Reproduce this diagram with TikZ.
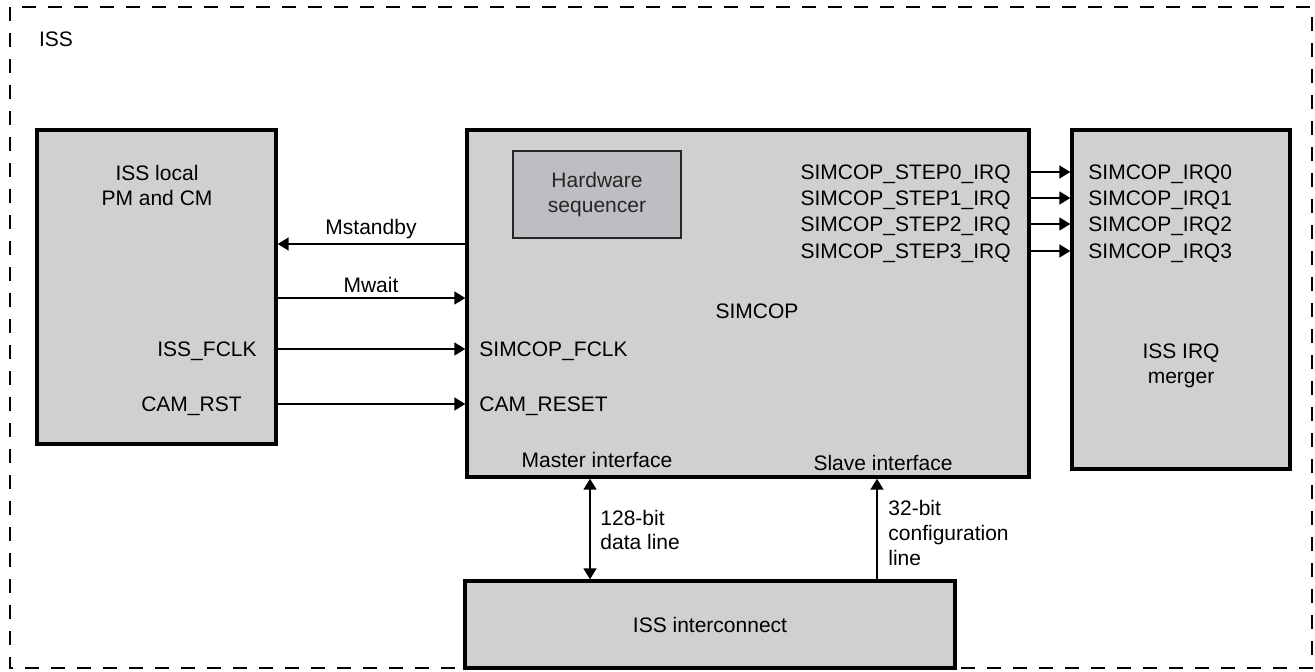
\documentclass[tikz,border=0pt]{standalone}
\usepackage{fontspec}
\setmainfont{Liberation Sans}
\usetikzlibrary{arrows.meta, positioning}
\definecolor{blockgrau}{HTML}{D0D0D0}
\definecolor{seqgrau}{HTML}{BDBEC2}

\begin{document}
\begin{tikzpicture}[x=0.5pt, y=-0.5pt,
    font=\fontsize{10.5}{12.3}\selectfont,
    box/.style={draw, line width=1.7pt, fill=blockgrau, inner sep=0pt},
    txt/.style={inner sep=0pt, align=center},
    lbl/.style={inner sep=0pt, text height=7.5pt, text depth=0pt},
    arr/.style={-{Triangle[length=5.5pt, width=6.5pt]}, line width=0.8pt},
    dblarr/.style={{Triangle[length=5.5pt, width=6.5pt]}-{Triangle[length=5.5pt, width=6.5pt]}, line width=0.8pt}
  ]
  \useasboundingbox (0,0) rectangle (1315,671);
  % ISS frame
  \draw[line width=1.4pt, dash pattern=on 7pt off 6pt] (10,7) rectangle (1312,668);
  \node[lbl] (iss) at (56,39) {ISS};

  % blocks
  \node[box, minimum width=119.5pt, minimum height=157pt] (pmcm) at (156.5,287) {};
  \node[box, minimum width=281pt, minimum height=173.5pt] (simcop) at (748,303.5) {};
  \node[box, minimum width=109pt, minimum height=169.5pt] (irqm) at (1181,299.5) {};
  \node[box, minimum width=245pt, minimum height=43.5pt] (icon) at (710,624.5) {ISS interconnect};
  \node[draw=black!85, line width=1pt, fill=seqgrau, text=black!85, align=center,
        minimum width=84pt, minimum height=43.5pt] (hwseq) at (597,194.5) {Hardware\\sequencer};

  \node[txt] (pmlbl) at (157,185.5) {ISS local\\PM and CM};
  \node[lbl] (simlbl) at (757,311) {SIMCOP};
  \node[txt] (irqlbl) at (1181,366) {ISS IRQ\\merger};
  \node[lbl] (mif) at (597,460) {Master interface};
  \node[lbl] (sif) at (883,463) {Slave interface};

  % PM/CM signals
  \node[lbl] (mstby) at (371,227) {Mstandby};
  \coordinate (mstbyy) at (0,244);
  \draw[arr] (simcop.west |- mstbyy) -- (pmcm.east |- mstbyy);
  \node[lbl] (mwait) at (371,285) {Mwait};
  \coordinate (mwaity) at (0,298);
  \draw[arr] (pmcm.east |- mwaity) -- (simcop.west |- mwaity);
  \node[lbl, anchor=east] (fclk) at (257,349) {ISS\_FCLK};
  \node[lbl, anchor=west] (sfclk) at (479,349) {SIMCOP\_FCLK};
  \draw[arr] (pmcm.east |- fclk) -- (simcop.west |- fclk);
  \node[lbl, anchor=east] (camrst) at (242,404) {CAM\_RST};
  \node[lbl, anchor=west] (camres) at (479,404) {CAM\_RESET};
  \draw[arr] (pmcm.east |- camrst) -- (simcop.west |- camrst);

  % interrupts
  \foreach \i/\y in {0/172,1/198,2/224,3/251} {
    \node[lbl, anchor=east] (step\i) at (1011,\y) {SIMCOP\_STEP\i\_IRQ};
    \node[lbl, anchor=west] (irq\i) at (1088,\y) {SIMCOP\_IRQ\i};
    \draw[arr] (simcop.east |- step\i) -- (irqm.west |- step\i);
  }

  % interconnect lines
  \coordinate (dlx) at (590,0);
  \draw[dblarr] (dlx |- simcop.south) -- (dlx |- icon.north);
  \node[txt, anchor=west, align=left] (dlbl) at (600,530) {128-bit\\data line};
  \coordinate (clx) at (877,0);
  \draw[arr] (clx |- icon.north) -- (clx |- simcop.south);
  \node[txt, anchor=west, align=left] (clbl) at (888,533) {32-bit\\configuration\\line};
\end{tikzpicture}
\end{document}
